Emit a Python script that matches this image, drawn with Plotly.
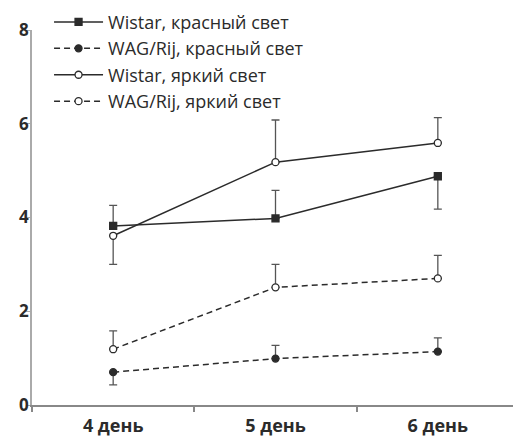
import plotly.graph_objects as go

days = ["4 день", "5 день", "6 день"]

wistar_red = [3.82, 3.98, 4.88]
wistar_red_up = [0.44, 0.60, 0.0]
wistar_red_down = [0.0, 0.0, 0.70]

wag_red = [0.70, 0.99, 1.14]
wag_red_up = [0.0, 0.28, 0.29]
wag_red_down = [0.27, 0.0, 0.0]

wistar_bright = [3.61, 5.18, 5.59]
wistar_bright_up = [0.0, 0.90, 0.54]
wistar_bright_down = [0.61, 0.0, 0.0]

wag_bright = [1.19, 2.51, 2.70]
wag_bright_up = [0.39, 0.49, 0.49]
wag_bright_down = [0.0, 0.0, 0.0]

names = ["Wistar, красный свет", "WAG/Rij, красный свет",
         "Wistar, яркий свет", "WAG/Rij, яркий свет"]

ink = "#2b2b2b"
errc = "#555555"

series = [
    (names[0], wistar_red, wistar_red_up, wistar_red_down, "solid", "square", ink, 7),
    (names[1], wag_red, wag_red_up, wag_red_down, "6px,4px", "circle", ink, 7),
    (names[2], wistar_bright, wistar_bright_up, wistar_bright_down, "solid", "circle", "white", 7),
    (names[3], wag_bright, wag_bright_up, wag_bright_down, "6px,4px", "circle", "white", 7),
]

fig = go.Figure()
for i, (name, y, up, down, dash, sym, fill, ms) in enumerate(series):
    fig.add_trace(go.Scatter(
        x=days, y=y, name=name, mode="lines+markers", legendgroup=f"g{i}",
        line=dict(color=ink, width=1.5, dash=dash),
        marker=dict(symbol=sym, size=ms, color=fill, line=dict(color=ink, width=1.3)),
        error_y=dict(type="data", symmetric=False, array=up, arrayminus=down,
                     color=errc, thickness=1.3, width=4),
    ))

# page body has an 8px margin, so the figure is drawn 8px smaller
fig.update_layout(
    width=513, height=430,
    margin=dict(l=24, r=2, t=22, b=33, autoexpand=False),
    plot_bgcolor="white", paper_bgcolor="white",
    font=dict(family="Open Sans", size=18, color=ink),
    showlegend=True,
    legend=dict(x=0.035, y=1.07, xanchor="left", yanchor="top",
                bgcolor="rgba(0,0,0,0)", itemwidth=49, tracegroupgap=0,
                font=dict(family="Open Sans", size=18, color=ink)),
)
fig.update_xaxes(
    type="category", range=[-0.5, 2.5], tickson="boundaries",
    showline=True, linecolor="#888888", linewidth=2,
    ticks="outside", ticklen=5, tickcolor="#888888", tickwidth=1.5,
    showgrid=False, zeroline=False, ticklabelstandoff=3,
    tickfont=dict(family="Open Sans", size=18, color=ink, weight="bold"),
)
fig.update_yaxes(
    range=[0, 8], dtick=2, tick0=0,
    showline=True, linecolor="#aaaaaa", linewidth=1.5,
    ticks="outside", ticklen=4, tickcolor="#aaaaaa", tickwidth=1,
    showgrid=False, zeroline=False, ticklabelstandoff=-6,
    tickfont=dict(family="Open Sans", size=17, color=ink, weight="bold"),
)

fig.write_html("out.html")
